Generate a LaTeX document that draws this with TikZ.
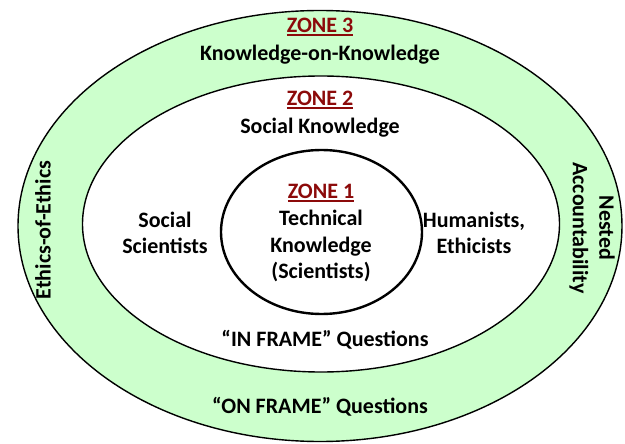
\documentclass[tikz,border=0pt]{standalone}
\usepackage{fontspec}
\setmainfont{Carlito}
\usetikzlibrary{shapes.geometric}
\definecolor{ringgreen}{RGB}{204,255,204}
\definecolor{zonered}{RGB}{140,10,10}
\tikzset{
  zoneshape/.style={ellipse, draw=black, inner sep=0pt},
  lbl/.style={font=\fontsize{22}{26.5}\selectfont\bfseries, align=center, inner sep=0pt},
  zonelbl/.style={lbl, text=zonered}
}
% zone heading with a heavier underline
\newcommand{\zonetitle}[1]{\setbox0\hbox{#1}\rlap{\raisebox{-3.6pt}{\rule{\wd0}{1.7pt}}}\box0}
\begin{document}
\begin{tikzpicture}[x=1pt,y=-1pt]
  \useasboundingbox (0,0) rectangle (625,444);
  % nested zones
  \node[zoneshape, fill=ringgreen, line width=1.4pt, minimum width=604, minimum height=431] (outer) at (320,226) {};
  \node[zoneshape, fill=white, line width=1.4pt, minimum width=477, minimum height=296] (middle) at (321,224) {};
  \node[zoneshape, fill=white, line width=2.4pt, minimum width=201, minimum height=164] (inner) at (321.5,232) {};
  % zone 3 labels
  \node[zonelbl] (z3) at (320,27) {\zonetitle{ZONE 3}};
  \node[lbl] (kok) at (320,55) {Knowledge-on-Knowledge};
  \node[lbl, rotate=90] (eoe) at (43,230) {Ethics-of-Ethics};
  \node[lbl, rotate=-90] (nest) at (592,228) {Nested\\Accountability};
  \node[lbl] (onf) at (320,407) {“ON FRAME” Questions};
  % zone 2 labels
  \node[zonelbl] (z2) at (320,100) {\zonetitle{ZONE 2}};
  \node[lbl] (sk) at (320,128) {Social Knowledge};
  \node[lbl] (soc) at (165,233) {Social\\Scientists};
  \node[lbl] (hum) at (474,233) {Humanists,\\Ethicists};
  \node[lbl] (inf) at (325,340) {“IN FRAME” Questions};
  % zone 1 labels
  \node[zonelbl] (z1) at (321,193) {\zonetitle{ZONE 1}};
  \node[lbl] (tk) at (321,246) {Technical\\Knowledge\\(Scientists)};
\end{tikzpicture}
\end{document}
